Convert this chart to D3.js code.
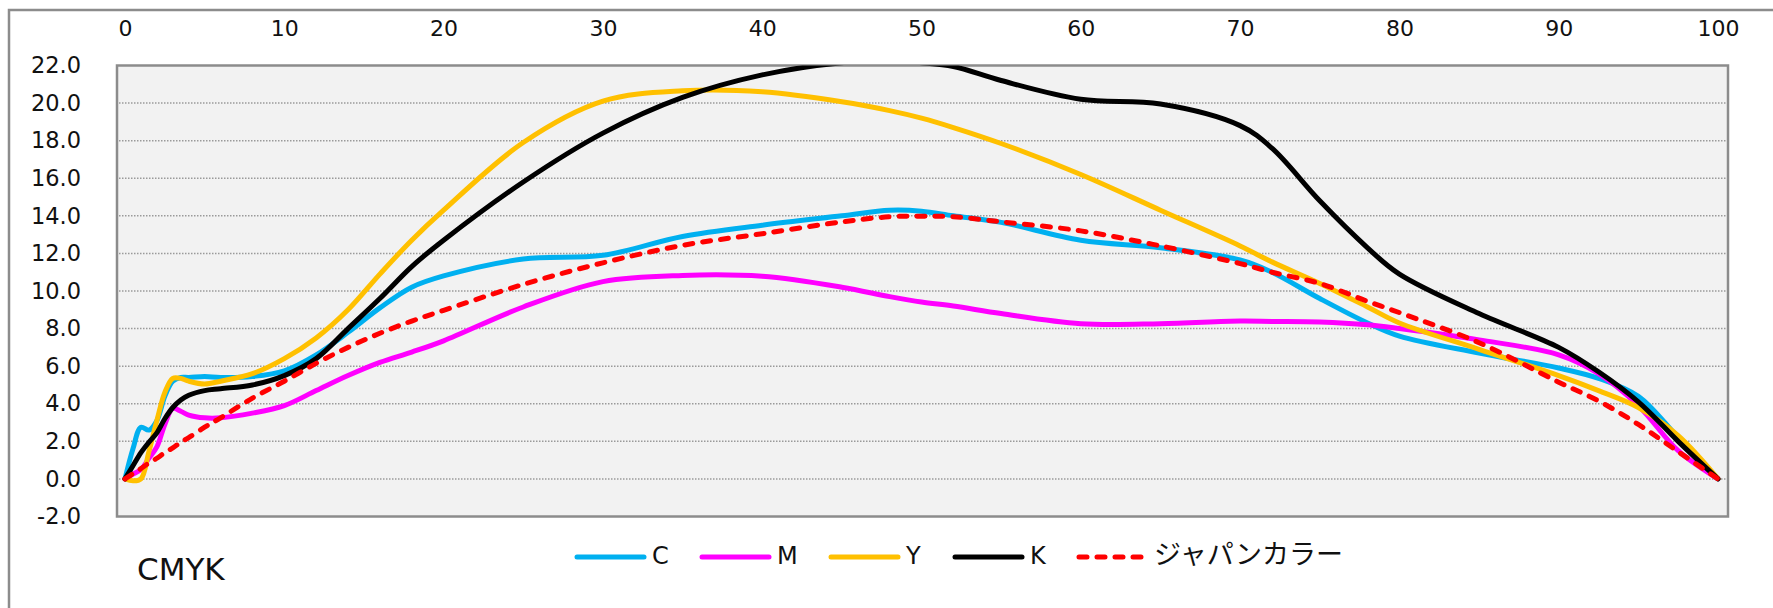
<!DOCTYPE html>
<html>
<head>
<meta charset="utf-8">
<script src="https://cdn.jsdelivr.net/npm/d3@7"></script>
<style>
  body { margin: 0; background: #fff; }
  svg { display: block; }
</style>
</head>
<body>
<div id="chart"></div>
<script>
// x positions (0-100) and values
const xs = [0, 0.5, 1, 1.5, 2, 2.5, 3, 3.5, 4, 5, 6, 8, 10, 12, 14, 16, 18, 20, 25, 30, 35, 40, 45, 48, 50, 52, 55, 60, 65, 70, 72, 75, 78, 80, 85, 90, 92.5, 95, 97.5, 100];

const cValues = [0, 1.6, 2.75, 2.6, 3.1, 4.4, 5.2, 5.4, 5.4, 5.45, 5.4, 5.45, 5.75, 6.6, 7.8, 9.1, 10.2, 10.8, 11.7, 11.9, 12.9, 13.5, 14.0, 14.3, 14.25, 14.0, 13.65, 12.7, 12.3, 11.65, 11.0, 9.6, 8.3, 7.6, 6.7, 5.9, 5.35, 4.4, 2.2, 0];
const mValues = [0, 0.25, 0.5, 1.1, 1.7, 2.9, 3.75, 3.6, 3.4, 3.25, 3.25, 3.5, 3.9, 4.7, 5.5, 6.2, 6.75, 7.35, 9.15, 10.5, 10.83, 10.78, 10.2, 9.7, 9.41, 9.2, 8.8, 8.26, 8.26, 8.4, 8.38, 8.35, 8.2, 8.0, 7.4, 6.6, 5.6, 3.9, 1.5, 0];
const yValues = [0, -0.1, 0.0, 1.45, 3.1, 4.6, 5.35, 5.35, 5.2, 5.05, 5.2, 5.6, 6.4, 7.5, 9.0, 10.9, 12.7, 14.3, 17.9, 20.1, 20.65, 20.6, 20.07, 19.6, 19.2, 18.7, 17.85, 16.2, 14.3, 12.4, 11.55, 10.4, 9.15, 8.3, 6.9, 5.5, 4.7, 3.8, 2.3, 0];
const kValues = [0, 0.7, 1.4, 1.95, 2.45, 3.2, 3.8, 4.2, 4.45, 4.7, 4.8, 5.0, 5.5, 6.4, 8.0, 9.6, 11.3, 12.7, 15.8, 18.4, 20.3, 21.5, 22.15, 22.25, 22.15, 21.95, 21.2, 20.2, 19.95, 18.8, 17.6, 14.8, 12.3, 10.9, 8.8, 7.0, 5.7, 4.1, 2.0, 0];
const japanValues = [0, 0.28, 0.55, 0.85, 1.1, 1.4, 1.65, 1.95, 2.2, 2.75, 3.25, 4.3, 5.2, 6.15, 7.0, 7.75, 8.4, 8.97, 10.35, 11.5, 12.43, 13.05, 13.68, 13.95, 13.98, 13.95, 13.68, 13.2, 12.4, 11.46, 11.0, 10.4, 9.45, 8.85, 7.25, 5.15, 4.15, 2.9, 1.45, 0];

const seriesNames = ["C", "M", "Y", "K", "ジャパンカラー"];
const seriesColors = ["#00b0f0", "#ff00ff", "#ffc000", "#000000", "#ff0000"];
const xTicks = [0, 10, 20, 30, 40, 50, 60, 70, 80, 90, 100];
const yTicks = [-2, 0, 2, 4, 6, 8, 10, 12, 14, 16, 18, 20, 22];
const chartTitle = "CMYK";

const series = [cValues, mValues, yValues, kValues, japanValues].map((vals, i) => ({
    name: seriesNames[i],
    color: seriesColors[i],
    dashed: i === 4,
    points: xs.map((x, j) => ({ x: x, v: vals[j] }))
}));

const width = 1773;
const height = 608;
const plot = { left: 117, right: 1728, top: 65.5, bottom: 516.5 };

const svg = d3.select("#chart").append("svg")
    .attr("width", width)
    .attr("height", height);

svg.append("rect")
    .attr("width", width)
    .attr("height", height)
    .attr("fill", "#fff");

// outer chart border (runs off the right and bottom edges)
svg.append("rect")
    .attr("x", 9)
    .attr("y", 10)
    .attr("width", width + 20)
    .attr("height", height + 20)
    .attr("fill", "none")
    .attr("stroke", "#8c8c8c")
    .attr("stroke-width", 2.5);

const x = d3.scaleLinear().domain([0, 100]).range([125, 1718]);
const y = d3.scaleLinear().domain([-2, 22]).range([plot.bottom, plot.top]);

// plot area
svg.append("rect")
    .attr("x", plot.left)
    .attr("y", plot.top)
    .attr("width", plot.right - plot.left)
    .attr("height", plot.bottom - plot.top)
    .attr("fill", "#f2f2f2");

// dotted grid lines
svg.append("g")
    .selectAll("line")
    .data(yTicks.filter(t => t > -2 && t < 22))
    .enter().append("line")
    .attr("x1", plot.left + 2)
    .attr("x2", plot.right - 2)
    .attr("y1", d => y(d))
    .attr("y2", d => y(d))
    .attr("stroke", "#9a9a9a")
    .attr("stroke-width", 1.5)
    .attr("stroke-dasharray", "1.5,1.5");

svg.append("rect")
    .attr("x", plot.left)
    .attr("y", plot.top)
    .attr("width", plot.right - plot.left)
    .attr("height", plot.bottom - plot.top)
    .attr("fill", "none")
    .attr("stroke", "#8c8c8c")
    .attr("stroke-width", 2.5);

// axes
const xAxis = svg.append("g")
    .attr("transform", "translate(0,36)")
    .call(d3.axisTop(x).tickValues(xTicks).tickSize(0).tickPadding(0));
xAxis.select(".domain").remove();
xAxis.selectAll("text")
    .attr("font-family", "DejaVu Sans, Verdana, sans-serif")
    .attr("font-size", 22)
    .attr("fill", "#111")
    .attr("dy", 0);

const yAxis = svg.append("g")
    .attr("transform", "translate(81,0)")
    .call(d3.axisLeft(y).tickValues(yTicks).tickFormat(d => d.toFixed(1)).tickSize(0).tickPadding(0));
yAxis.select(".domain").remove();
yAxis.selectAll("text")
    .attr("font-family", "DejaVu Sans, Verdana, sans-serif")
    .attr("font-size", 22.5)
    .attr("fill", "#111");

// lines
svg.append("clipPath")
    .attr("id", "plot-clip")
    .append("rect")
    .attr("x", plot.left)
    .attr("y", plot.top)
    .attr("width", plot.right - plot.left)
    .attr("height", plot.bottom - plot.top);

const line = d3.line()
    .x(d => x(d.x))
    .y(d => y(d.v))
    .curve(d3.curveCatmullRom.alpha(0.5));

svg.append("g")
    .attr("clip-path", "url(#plot-clip)")
    .selectAll("path")
    .data(series)
    .enter().append("path")
    .attr("d", d => line(d.points))
    .attr("fill", "none")
    .attr("stroke", d => d.color)
    .attr("stroke-width", 5)
    .attr("stroke-linecap", "round")
    .attr("stroke-linejoin", "round")
    .attr("stroke-dasharray", d => d.dashed ? "8,10" : null);

// legend
const legendX = [577, 702, 831, 955, 1079];
const legend = svg.append("g")
    .selectAll("g")
    .data(series)
    .enter().append("g")
    .attr("transform", (d, i) => `translate(${legendX[i]},557)`);

legend.append("line")
    .attr("x1", 0)
    .attr("x2", d => d.dashed ? 66 : 67)
    .attr("stroke", d => d.color)
    .attr("stroke-width", 5)
    .attr("stroke-linecap", "round")
    .attr("stroke-dasharray", d => d.dashed ? "8,10" : null);

legend.append("text")
    .attr("x", 75)
    .attr("y", 7)
    .attr("font-family", d => d.dashed ? "Noto Sans CJK JP, sans-serif" : "DejaVu Sans, sans-serif")
    .attr("font-size", d => d.dashed ? 27 : 24)
    .attr("fill", "#111")
    .text(d => d.name);

svg.append("text")
    .attr("x", 137)
    .attr("y", 580)
    .attr("font-family", "DejaVu Sans, Verdana, sans-serif")
    .attr("font-size", 31)
    .attr("fill", "#111")
    .text(chartTitle);
</script>
</body>
</html>
